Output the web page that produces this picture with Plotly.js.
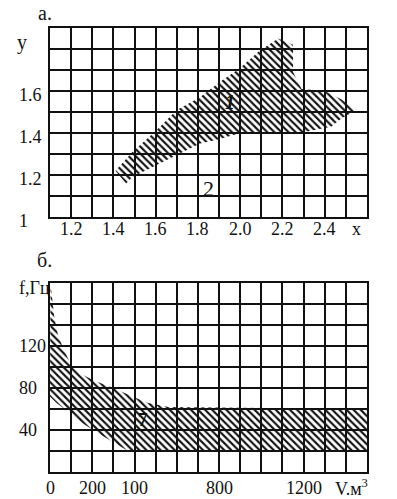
<!DOCTYPE html>
<html>
<head>
<meta charset="utf-8">
<script src="https://cdn.plot.ly/plotly-3.0.1.min.js"></script>
<style>
  html, body { margin: 0; padding: 0; background: #fff; }
  #chart { width: 397px; height: 499px; }
</style>
</head>
<body>
<div id="chart"></div>
<script>
// Panel а: region 1 in the (x, y) plane
const regionAx = [1.41, 1.49, 1.60, 1.70, 1.81, 1.90, 2.00, 2.09, 2.18, 2.25, 2.25, 2.29, 2.40, 2.48, 2.55,
                  2.48, 2.43, 2.28, 2.00, 1.90, 1.81, 1.65, 1.49, 1.46, 1.41];
const regionAy = [1.22, 1.31, 1.41, 1.51, 1.57, 1.64, 1.71, 1.79, 1.85, 1.82, 1.69, 1.61, 1.60, 1.56, 1.51,
                  1.47, 1.43, 1.40, 1.40, 1.37, 1.35, 1.27, 1.19, 1.16, 1.22];

// Panel б: frequency band f (Hz) against volume V (m³)
const bandUpperV = [3, 12, 20, 38, 62, 100, 150, 210, 300, 390, 460, 560, 1500];
const bandUpperF = [178, 162, 148, 130, 118, 102, 93, 87, 80, 72, 66, 62, 60];
const bandLowerV = [1500, 370, 300, 200, 140, 80, 30, 0];
const bandLowerF = [20, 20, 28, 40, 48, 58, 66, 72];

// Axis ticks and labels
const xTicksA = [1.2, 1.4, 1.6, 1.8, 2.0, 2.2, 2.4];
const xLabelsA = ["1.2", "1.4", "1.6", "1.8", "2.0", "2.2", "2.4"];
const yTicksA = [1.0, 1.2, 1.4, 1.6];
const yLabelsA = ["1", "1.2", "1.4", "1.6"];
const xTicksB = [0, 200, 400, 800, 1200];
const xLabelsB = ["0", "200", "100", "800", "1200"];
const yTicksB = [40, 80, 120];
const yLabelsB = ["40", "80", "120"];

// Region labels
const markA1 = {x: 1.95, y: 1.55, text: "1"};
const markA2 = {x: 1.85, y: 1.135, text: "2"};
const markB1 = {x: 440, y: 50, text: "7"};

const INK = "#111";
const SERIF = "'Liberation Serif', 'Times New Roman', serif";

const hatch = {shape: "\\", size: 5, solidity: 0.42, fgcolor: INK, bgcolor: "rgba(0,0,0,0)"};

const traces = [
  {
    x: regionAx, y: regionAy, xaxis: "x", yaxis: "y",
    type: "scatter", mode: "lines", fill: "toself",
    fillcolor: "rgba(0,0,0,0)", fillpattern: hatch,
    line: {width: 0, color: "rgba(0,0,0,0)"}, hoverinfo: "skip"
  },
  {
    x: bandUpperV.concat(bandLowerV), y: bandUpperF.concat(bandLowerF),
    xaxis: "x2", yaxis: "y2",
    type: "scatter", mode: "lines", fill: "toself",
    fillcolor: "rgba(0,0,0,0)", fillpattern: hatch,
    line: {width: 0, color: "rgba(0,0,0,0)"}, hoverinfo: "skip"
  }
];

function gridAxis(extra) {
  return Object.assign({
    showgrid: true, gridcolor: INK, gridwidth: 2,
    showline: true, mirror: true, linecolor: INK, linewidth: 2,
    ticks: "", zeroline: false, fixedrange: true, showticklabels: false
  }, extra);
}

const annotations = [];
const tickFont = {family: SERIF, size: 18, color: INK};

function label(xref, yref, x, y, text, opts) {
  annotations.push(Object.assign({
    xref: xref, yref: yref, x: x, y: y, text: text, showarrow: false,
    xanchor: "center", yanchor: "middle", font: tickFont
  }, opts || {}));
}

// value labels along the x axes
xTicksA.forEach((v, i) => label("x", "y domain", v, 0, xLabelsA[i], {yshift: -12}));
xTicksB.forEach((v, i) => label("x2", "y2 domain", v, 0, xLabelsB[i], {yshift: -16}));

// left-aligned value labels on the y axes
yTicksA.forEach((v, i) => label("paper", "y", -0.105, v, yLabelsA[i], {xanchor: "left", yshift: -4}));
yTicksB.forEach((v, i) => label("paper", "y2", -0.105, v, yLabelsB[i], {xanchor: "left"}));

// axis names
label("paper", "y", -0.11, 1.83, "y", {xanchor: "left", font: {family: SERIF, size: 20, color: INK}});
label("x", "y domain", 2.55, 0, "x", {yshift: -12});
label("paper", "y2", -0.105, 175, "f,Гц", {xanchor: "left"});
label("x2", "y2 domain", 1425, 0, "V.м<sup>3</sup>", {yshift: -15});

// panel letters
label("paper", "paper", -0.016, 1.034, "а.", {font: {family: SERIF, size: 20, color: INK}});
label("paper", "paper", -0.016, 0.4775, "б.", {font: {family: SERIF, size: 20, color: INK}});

// region numbers
label("x", "y", markA1.x, markA1.y, "<b><i>" + markA1.text + "</i></b>", {font: {family: SERIF, size: 20, color: INK}});
label("x", "y", markA2.x, markA2.y, markA2.text, {font: {family: SERIF, size: 22, color: INK}});
label("x2", "y2", markB1.x, markB1.y, "<b>" + markB1.text + "</b>", {font: {family: SERIF, size: 19, color: INK}});

const layout = {
  width: 397, height: 499,
  margin: {l: 50, r: 30, t: 28, b: 27},
  paper_bgcolor: "#fff", plot_bgcolor: "#fff",
  showlegend: false,
  xaxis: gridAxis({
    domain: [0, 1], anchor: "y", range: [1.1, 2.6],
    tickmode: "linear", tick0: 1.1, dtick: 0.1
  }),
  yaxis: gridAxis({
    domain: [0.5743, 1], anchor: "x", range: [1.0, 1.9],
    tickmode: "linear", tick0: 1.0, dtick: 0.1
  }),
  xaxis2: gridAxis({
    domain: [0, 1], anchor: "y2", range: [0, 1500],
    tickmode: "linear", tick0: 0, dtick: 100
  }),
  yaxis2: gridAxis({
    domain: [0, 0.4257], anchor: "x2", range: [0, 180],
    tickmode: "linear", tick0: 0, dtick: 20
  }),
  annotations: annotations
};

Plotly.newPlot("chart", traces, layout, {staticPlot: true, displayModeBar: false});
</script>
</body>
</html>
